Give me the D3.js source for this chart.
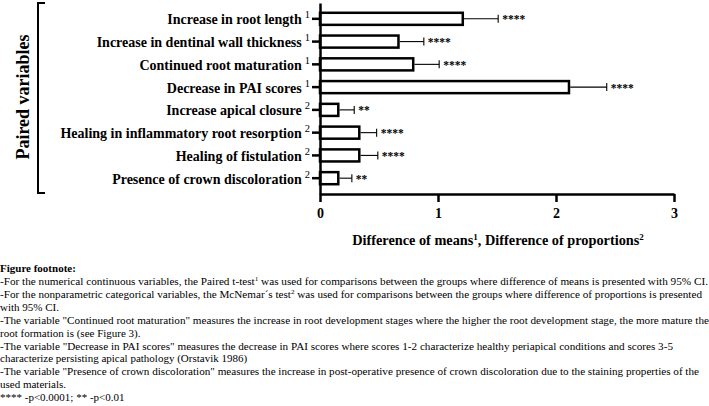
<!DOCTYPE html>
<html>
<head>
<meta charset="utf-8">
<script src="https://cdn.jsdelivr.net/npm/d3@7"></script>
<style>
  body { margin: 0; background: #fff; }
  svg { display: block; font-family: "Liberation Serif", "Times New Roman", serif; }
</style>
</head>
<body>
<div id="chart"></div>
<script>
// chart values
var categories = [
  'Increase in root length',
  'Increase in dentinal wall thickness',
  'Continued root maturation',
  'Decrease in PAI scores',
  'Increase apical closure',
  'Healing in inflammatory root resorption',
  'Healing of fistulation',
  'Presence of crown discoloration'
];
var testMarks = ['1', '1', '1', '1', '2', '2', '2', '2'];
var values = [1.21, 0.665, 0.79, 2.11, 0.155, 0.333, 0.333, 0.155];
var upperCI = [1.51, 0.88, 1.01, 2.43, 0.29, 0.48, 0.49, 0.27];
var stars = ['****', '****', '****', '****', '**', '****', '****', '**'];
var xTicks = [0, 1, 2, 3];

var footTitle = 'Figure footnote:';
var footLines = [
  ['-For the numerical continuous variables, the Paired t-test', '1', ' was used for comparisons between the groups where difference of means is presented with 95% CI.'],
  ['-For the nonparametric categorical variables, the McNemar\u00b4s test', '2', ' was used for comparisons between the groups where difference of proportions is presented'],
  ['with 95% CI.'],
  ['-The variable "Continued root maturation" measures the increase in root development stages where the higher the root development stage, the more mature the'],
  ['root formation is (see Figure 3).'],
  ['-The variable "Decrease in PAI scores" measures the decrease in PAI scores where scores 1-2 characterize healthy periapical conditions and scores 3-5'],
  ['characterize persisting apical pathology (Orstavik 1986)'],
  ['-The variable "Presence of crown discoloration" measures the increase in post-operative presence of crown discoloration due to the staining properties of the'],
  ['used materials.'],
  ['**** -p<0.0001; ** -p<0.01']
];
// widths of the full-width lines (0 = natural width)
var footWidths = [708, 702, 0, 709, 0, 673, 0, 699, 0, 0];

var w = 709,
  h = 406;

var svg = d3.select('#chart').append('svg')
  .attr('width', w)
  .attr('height', h);

svg.append('rect').attr('width', w).attr('height', h).attr('fill', '#fff');

// scales
var x = d3.scaleLinear().domain([0, 3]).range([320, 674]);
var y = d3.scaleBand().domain(categories).range([3, 194])
  .paddingInner(0.47).paddingOuter(0.43);

// bracket for the y title
svg.append('path')
  .attr('d', 'M45,3H38V193H45')
  .attr('fill', 'none')
  .attr('stroke', '#000')
  .attr('stroke-width', 2);

svg.append('text')
  .attr('transform', 'translate(29,97) rotate(-90)')
  .attr('text-anchor', 'middle')
  .attr('font-size', 18)
  .attr('font-weight', 'bold')
  .text('Paired variables');

// bars
svg.selectAll('rect.bar')
  .data(categories)
  .enter().append('rect')
  .attr('class', 'bar')
  .attr('x', x(0))
  .attr('y', function(d) { return y(d); })
  .attr('width', function(d, i) { return x(values[i]) - x(0); })
  .attr('height', y.bandwidth())
  .attr('fill', '#fff')
  .attr('stroke', '#000')
  .attr('stroke-width', 2.5);

// error bars
var err = svg.selectAll('g.err')
  .data(categories)
  .enter().append('g')
  .attr('class', 'err');

err.append('line')
  .attr('x1', function(d, i) { return x(values[i]) + 1.25; })
  .attr('x2', function(d, i) { return x(upperCI[i]); })
  .attr('y1', function(d) { return y(d) + y.bandwidth() / 2; })
  .attr('y2', function(d) { return y(d) + y.bandwidth() / 2; })
  .attr('stroke', '#000')
  .attr('stroke-width', 1.1);

err.append('line')
  .attr('x1', function(d, i) { return x(upperCI[i]); })
  .attr('x2', function(d, i) { return x(upperCI[i]); })
  .attr('y1', function(d) { return y(d) + y.bandwidth() / 2 - 4; })
  .attr('y2', function(d) { return y(d) + y.bandwidth() / 2 + 4; })
  .attr('stroke', '#000')
  .attr('stroke-width', 1.1);

err.append('text')
  .attr('x', function(d, i) { return x(upperCI[i]) + 4; })
  .attr('y', function(d) { return y(d) + y.bandwidth() / 2 + 4.5; })
  .attr('font-size', 11.5)
  .attr('font-weight', 'bold')
  .text(function(d, i) { return stars[i]; });

// axes
var yAxis = svg.append('g')
  .attr('transform', 'translate(' + x(0) + ',0)')
  .call(d3.axisLeft(y).tickSize(8).tickSizeOuter(0).tickPadding(10));

yAxis.attr('font-family', null).attr('font-size', null);

yAxis.selectAll('.tick text')
  .attr('x', -10)
  .attr('dy', '0.4em')
  .attr('font-size', 14)
  .attr('font-weight', 'bold')
  .attr('fill', '#000')
  .each(function(d, i) {
    d3.select(this).append('tspan')
      .attr('font-size', 10.5)
      .attr('font-weight', 'normal')
      .attr('dx', 3)
      .attr('dy', -6)
      .text(testMarks[i]);
  });

var xAxis = svg.append('g')
  .attr('transform', 'translate(0,' + 194 + ')')
  .call(d3.axisBottom(x).tickValues(xTicks).tickSize(8).tickSizeOuter(0).tickPadding(6)
    .tickFormat(d3.format('d')));

xAxis.attr('font-family', null).attr('font-size', null);

xAxis.selectAll('.tick text')
  .attr('font-size', 14)
  .attr('font-weight', 'bold')
  .attr('fill', '#000');

svg.selectAll('.domain, .tick line')
  .attr('stroke', '#000')
  .attr('stroke-width', 2.5);

// x title
var xt = svg.append('text')
  .attr('x', 498)
  .attr('y', 245)
  .attr('text-anchor', 'middle')
  .attr('font-size', 14.3)
  .attr('font-weight', 'bold');
xt.append('tspan').text('Difference of means');
xt.append('tspan').attr('font-size', 9).attr('dy', -5).text('1');
xt.append('tspan').attr('dy', 5).text(', Difference of proportions');
xt.append('tspan').attr('font-size', 9).attr('dy', -5).text('2');

// footnote
svg.append('text')
  .attr('x', 0)
  .attr('y', 272)
  .attr('font-size', 11)
  .attr('font-weight', 'bold')
  .text(footTitle);

var foot = svg.selectAll('text.foot')
  .data(footLines)
  .enter().append('text')
  .attr('class', 'foot')
  .attr('x', 0)
  .attr('y', function(d, i) { return 285 + i * 12.9; })
  .attr('font-size', 11);

foot.each(function(parts, i) {
  var t = d3.select(this);
  parts.forEach(function(p, j) {
    if (j === 1) {
      t.append('tspan').attr('font-size', 7).attr('dy', -4).text(p);
    } else if (j === 2) {
      t.append('tspan').attr('dy', 4).text(p);
    } else {
      t.append('tspan').text(p);
    }
  });
  if (footWidths[i]) {
    t.attr('textLength', footWidths[i]).attr('lengthAdjust', 'spacingAndGlyphs');
  }
});
</script>
</body>
</html>
